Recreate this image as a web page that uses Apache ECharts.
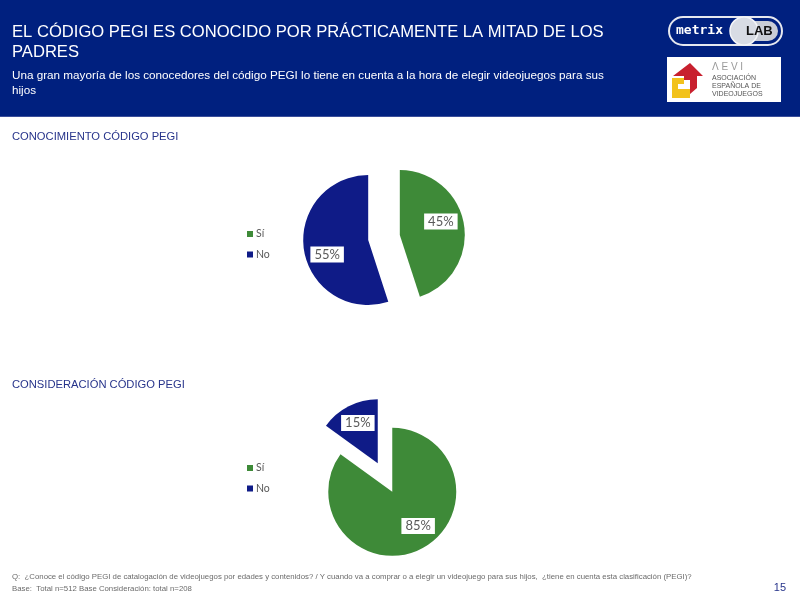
<!DOCTYPE html>
<html>
<head>
<meta charset="utf-8">
<script src="https://cdn.jsdelivr.net/npm/echarts@6/dist/echarts.min.js"></script>
<style>html,body{margin:0;padding:0;background:#fff}#c{width:800px;height:600px}</style>
</head>
<body>
<div id="c"></div>
<script>
// ---- data ----
const categories = ['Sí', 'No'];
const conocimientoValues = [45, 55];
const consideracionValues = [85, 15];
const headerTitle = 'EL CÓDIGO PEGI ES CONOCIDO POR PRÁCTICAMENTE LA MITAD DE LOS\nPADRES';
const headerSubtitle = 'Una gran mayoría de los conocedores del código PEGI lo tiene en cuenta a la hora de elegir videojuegos para sus\nhijos';
const chart1Title = 'CONOCIMIENTO CÓDIGO PEGI';
const chart2Title = 'CONSIDERACIÓN CÓDIGO PEGI';
const footerQ = 'Q:  ¿Conoce el código PEGI de catalogación de videojuegos por edades y contenidos? / Y cuando va a comprar o a elegir un videojuego para sus hijos,  ¿tiene en cuenta esta clasificación (PEGI)?';
const footerBase = 'Base:  Total n=512 Base Consideración: total n=208';
const pageNumber = '15';

// ---- styles ----
const COLORS = ['#3E8A38', '#0F1B87'];
const NAVY = '#00207F';
const labelShift = [[[6, -8], [-6, 9]], [[10, 3], [-4, -9]]];

const chart = echarts.init(document.getElementById('c'), null, {renderer: 'canvas'});

function pieData(vals) {
  return categories.map((n, i) => ({name: n, value: vals[i], selected: true}));
}
function pieSeries(vals, center, radius, si) {
  return {
    type: 'pie',
    center: center,
    radius: radius,
    startAngle: 90,
    clockwise: true,
    selectedMode: 'multiple',
    selectedOffset: 16,
    avoidLabelOverlap: false,
    emphasis: {scale: false, disabled: true},
    itemStyle: {borderWidth: 0},
    label: {
      show: true,
      position: 'inside',
      formatter: '{c}%',
      color: '#595959',
      fontFamily: 'Lato',
      fontSize: 13,
      backgroundColor: '#fff',
      padding: [2, 4, 1, 4]
    },
    labelLine: {show: false},
    labelLayout: function (p) {
      const s = labelShift[si][p.dataIndex];
      return {dx: s[0], dy: s[1]};
    },
    data: pieData(vals)
  };
}
function legendAt(top) {
  return {
    orient: 'vertical',
    left: 247,
    top: top,
    padding: 0,
    icon: 'rect',
    itemWidth: 6,
    itemHeight: 6,
    itemGap: 8.5,
    selectedMode: false,
    data: categories,
    textStyle: {color: '#595959', fontFamily: 'Lato', fontSize: 10.5, lineHeight: 12, padding: [0, 0, 0, -2]}
  };
}

const option = {
  animation: false,
  color: COLORS,
  legend: [legendAt(228), legendAt(462)],
  series: [
    pieSeries(conocimientoValues, [384, 237.5], 65, 0),
    pieSeries(consideracionValues, [385, 477.5], 64, 1)
  ],
  graphic: [
    {type: 'rect', shape: {x: 0, y: 0, width: 800, height: 117}, style: {fill: NAVY}, silent: true},
    {type: 'rect', shape: {x: 0, y: 116, width: 800, height: 1}, style: {fill: '#3A4E9A'}, silent: true},
    {type: 'text', left: 12, top: 22, style: {text: headerTitle, fill: '#fff', font: '16.6px "Liberation Sans", Arial, sans-serif', lineHeight: 20}},
    {type: 'text', left: 12, top: 68, style: {text: headerSubtitle, fill: '#fff', font: '11.7px "Liberation Sans", Arial, sans-serif', lineHeight: 15}},
    // metrixLAB logo
    {type: 'rect', shape: {x: 669, y: 17, width: 113, height: 28, r: 14}, style: {fill: NAVY, stroke: '#E6E8EF', lineWidth: 2}, silent: true},
    {type: 'rect', shape: {x: 735, y: 21, width: 43, height: 20, r: 10}, style: {fill: '#C9CDD6'}, silent: true},
    {type: 'circle', shape: {cx: 744, cy: 31, r: 14}, style: {fill: '#D8DCE4', stroke: '#F4F5F8', lineWidth: 1.5}, silent: true},
    {type: 'text', x: 676, y: 31, style: {text: 'metrix', fill: '#fff', font: 'bold 13px "DejaVu Sans Mono", monospace', verticalAlign: 'middle'}},
    {type: 'text', x: 746, y: 31, style: {text: 'LAB', fill: '#111', font: 'bold 13px "Liberation Sans", Arial, sans-serif', verticalAlign: 'middle'}},
    // AEVI logo
    {type: 'rect', shape: {x: 667, y: 57, width: 114, height: 45}, style: {fill: '#fff'}, silent: true},
    {type: 'polygon', shape: {points: [[673, 76], [690, 63], [703, 76], [697, 76], [697, 88], [690, 94], [690, 80], [684, 80], [684, 76]]}, style: {fill: '#C8202E'}, silent: true},
    {type: 'polygon', shape: {points: [[672, 78], [684, 78], [684, 84], [678, 84], [678, 89], [690, 89], [690, 98], [672, 98]]}, style: {fill: '#F2C21B'}, silent: true},
    {type: 'text', x: 712, y: 62, style: {text: 'Λ E V I', fill: '#9A9A9A', font: '10px "Liberation Sans", Arial, sans-serif'}},
    {type: 'text', x: 712, y: 74, style: {text: 'ASOCIACIÓN\nESPAÑOLA DE\nVIDEOJUEGOS', fill: '#555', font: '7px "Liberation Sans Narrow", "Liberation Sans", Arial, sans-serif', lineHeight: 8}},
    // section titles
    {type: 'text', left: 12, top: 131, style: {text: chart1Title, fill: '#27348B', font: '11.2px "Liberation Sans", Arial, sans-serif'}},
    {type: 'text', left: 12, top: 379, style: {text: chart2Title, fill: '#27348B', font: '11.2px "Liberation Sans", Arial, sans-serif'}},
    // footer
    {type: 'text', left: 12, top: 573, style: {text: footerQ, fill: '#6b6b6b', font: '7.8px "Liberation Sans", Arial, sans-serif'}},
    {type: 'text', left: 12, top: 585, style: {text: footerBase, fill: '#6b6b6b', font: '7.8px "Liberation Sans", Arial, sans-serif'}},
    {type: 'text', right: 14, top: 582, style: {text: pageNumber, fill: '#27348B', font: '11px "Liberation Sans", Arial, sans-serif'}}
  ]
};
chart.setOption(option);
</script>
</body>
</html>
